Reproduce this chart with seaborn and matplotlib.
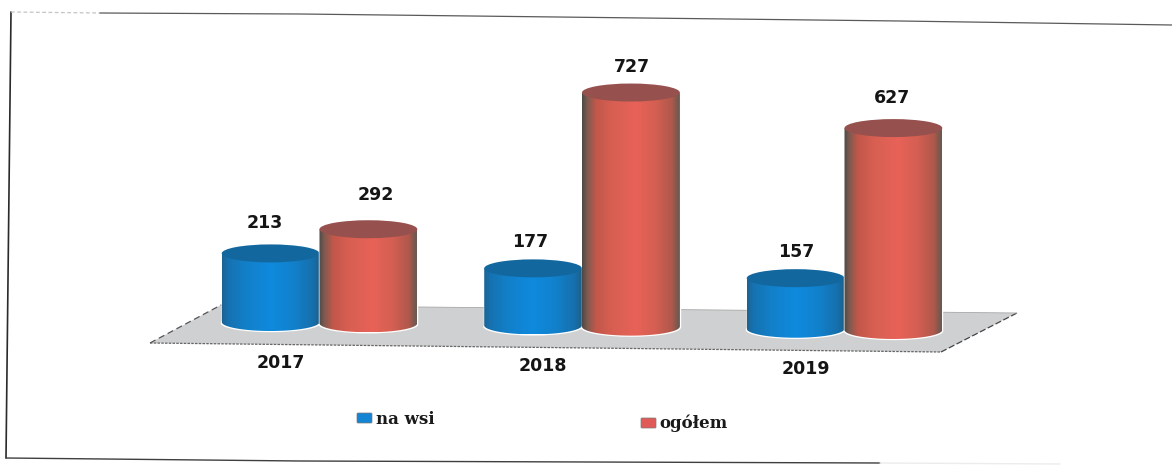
import numpy as np
import pandas as pd
import matplotlib
matplotlib.use("Agg")
import matplotlib.pyplot as plt
from matplotlib.colors import LinearSegmentedColormap
from matplotlib.patches import Ellipse, FancyBboxPatch, Polygon
from matplotlib.path import Path
import seaborn as sns

# data
years = ["2017", "2018", "2019"]
na_wsi = [213, 177, 157]
ogolem = [292, 727, 627]
series_names = ["na wsi", "ogółem"]

df = pd.DataFrame({
    "year": years * 2,
    "value": na_wsi + ogolem,
    "series": [series_names[0]] * 3 + [series_names[1]] * 3,
})

# px = zero_px - scale * value
W, H = 1172, 466
ZERO_PX = 325
SCALE = 0.322
GROUP0_PX = 319.5
GROUP_STEP = 262.5
RY_PX = 9

sns.set_style("white")
plt.rcParams["font.family"] = ["DejaVu Sans"]

fig = plt.figure(figsize=(W / 100, H / 100), dpi=100)

# background layer in pixel coordinates: frame, floor, legend
bg = fig.add_axes([0, 0, 1, 1], zorder=0)
bg.set_xlim(0, W)
bg.set_ylim(H, 0)
bg.axis("off")

# the scan is skewed, so the frame lines are too
bg.plot([11, 6], [12, 458], color="#2a2a2a", lw=1.2)
bg.plot([11, 100], [12, 13], color="#c4c4c4", lw=0.9, ls=(0, (3, 2)))
bg.plot([100, 300, 900, 1172], [13, 14, 21, 25], color="#5a5a5a", lw=0.9)
bg.plot([6, 300, 880], [458, 461, 463], color="#3f3f3f", lw=1)
bg.plot([880, 1060], [463, 464], color="#ececec", lw=1)

floor = Polygon([(150, 343), (221, 305), (1017, 313), (941, 352)], closed=True,
                facecolor="#cfd0d1", edgecolor="none")
bg.add_patch(floor)
bg.plot([150, 941], [343, 352], color="#666666", lw=0.9, ls=(0, (2, 1)))
bg.plot([150, 221], [343, 305], color="#555555", lw=0.9, ls=(0, (5, 3)))
bg.plot([941, 1017], [352, 313], color="#444444", lw=0.9, ls=(0, (5, 2)))
bg.plot([221, 1017], [305, 313], color="#a8a8a8", lw=0.6)

# main axes fills the figure, limits set so the bars land where they should
ax = fig.add_axes([0, 0, 1, 1], zorder=1)
ax.patch.set_alpha(0)
sns.barplot(data=df, x="year", y="value", hue="series", order=years,
            hue_order=series_names, palette=["#1484d4", "#e05a55"],
            width=0.745, gap=0, legend=False, ax=ax)
ax.axis("off")

blue_cm = LinearSegmentedColormap.from_list("b", [
    (0, "#1d6394"), (0.06, "#1672b0"), (0.25, "#1280ca"), (0.5, "#0f8ade"),
    (0.75, "#1280ca"), (0.93, "#176fac"), (1, "#1c6089")])
red_cm = LinearSegmentedColormap.from_list("r", [
    (0, "#4e4a46"), (0.05, "#7d5a50"), (0.14, "#c2574a"), (0.3, "#d75f52"), (0.55, "#e86258"),
    (0.75, "#d45f52"), (0.92, "#b0584c"), (0.97, "#80584e"), (1, "#6a5a52")])
top_colors = ["#12679f", "#96504e"]


def floor_lift(x_center):
    # the floor runs slightly downhill to the right
    base_px = 322 + (GROUP0_PX + x_center * GROUP_STEP - 270) * 0.0128
    return (ZERO_PX - base_px) / SCALE


def cylinder(bar, cmap, top_color, z):
    x, w, h = bar.get_x(), bar.get_width(), bar.get_height()
    xc = x + w / 2
    y = floor_lift(xc)
    bar.set_y(y)
    bar.set_zorder(z)
    ry = RY_PX / SCALE
    t = np.linspace(np.pi, 2 * np.pi, 60)
    verts = [(x, y + h)] + list(zip(xc + w / 2 * np.cos(t), y + ry * np.sin(t))) + [(x + w, y + h), (x, y + h)]
    body = Path(verts, closed=True)
    grad = np.linspace(0, 1, 128).reshape(1, -1)
    im = ax.imshow(grad, extent=(x, x + w, y - ry, y + h), aspect="auto", cmap=cmap,
                   zorder=z + 0.1, interpolation="bilinear")
    im.set_clip_path(body, transform=ax.transData)
    # thin white glow on the floor under each cylinder
    ax.add_patch(Ellipse((xc, y - 1.2 / SCALE), w + 2 / GROUP_STEP, 2 * ry, facecolor="white",
                         edgecolor="none", zorder=2))
    ax.add_patch(Ellipse((xc, y + h), w, 2 * ry, facecolor=top_color, edgecolor="none", zorder=z + 0.2))
    return xc, y + h


# offsets of the value labels from the bar tops, in pixels
label_offsets = [[(-6, 30), (-3, 26), (1, 26)], [(7, 34), (1, 26), (-1, 30)]]

for s, container in enumerate(ax.containers):
    cm = blue_cm if s == 0 else red_cm
    vals = na_wsi if s == 0 else ogolem
    for i, bar in enumerate(container):
        xc, ytop = cylinder(bar, cm, top_colors[s], 3 + s)
        dx, dy = label_offsets[s][i]
        ax.annotate(str(vals[i]), (xc, ytop), xytext=(dx, dy), textcoords="offset pixels",
                    ha="center", va="center", fontsize=12.5, fontweight="bold", color="#151515")

ax.set_xlim(-GROUP0_PX / GROUP_STEP, (W - GROUP0_PX) / GROUP_STEP)
ax.set_ylim((ZERO_PX - H) / SCALE, ZERO_PX / SCALE)

# year labels sit left of the group centres and drop with the skew
for i, year in enumerate(years):
    ypx = 363 + 3 * i
    ax.annotate(year, (i, (ZERO_PX - ypx) / SCALE), xytext=(-39, 0), textcoords="offset pixels",
                ha="center", va="center", fontsize=12.5, fontweight="bold", color="#151515")

# legend, hand placed because the two entries are not level
for name, col, x0, y0, tx, ty in [(series_names[0], "#1484d4", 357, 413, 376, 420),
                                  (series_names[1], "#e05a58", 641, 418, 659, 423)]:
    bg.add_patch(FancyBboxPatch((x0 + 1, y0 + 1), 13, 8, boxstyle="round,pad=1", facecolor=col,
                                edgecolor="#7a7a7a", lw=0.5))
    bg.text(tx, ty, name, family="DejaVu Serif", fontweight="bold", fontsize=12,
            ha="left", va="center", color="#1a1a1a")

fig.savefig("out.png", dpi=100)
